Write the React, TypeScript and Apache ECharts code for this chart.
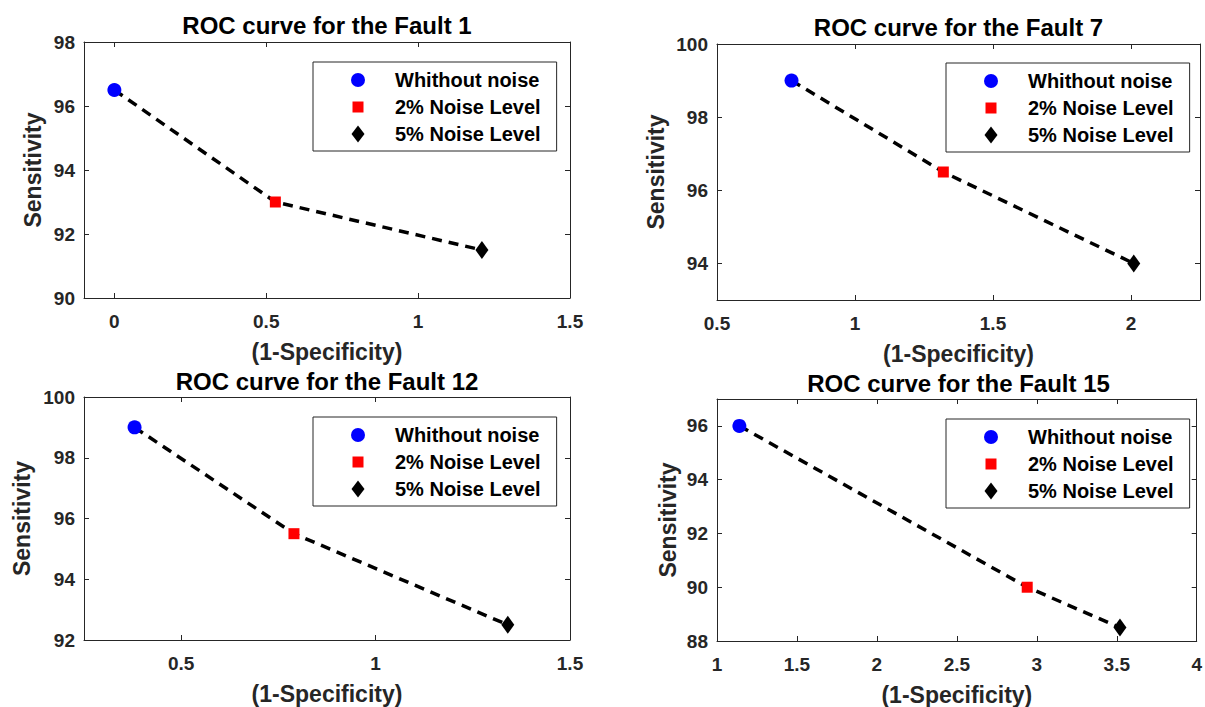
import React, { useEffect, useRef } from 'react';
import * as echarts from 'echarts';

const seriesNames = ['Whithout noise', '2% Noise Level', '5% Noise Level'];
const titles = [
  'ROC curve for the Fault 1',
  'ROC curve for the Fault 7',
  'ROC curve for the Fault 12',
  'ROC curve for the Fault 15',
];
const xAxisName = '(1-Specificity)';
const yAxisName = 'Sensitivity';

const fault1X = [0, 0.53, 1.21];
const fault1Y = [96.5, 93, 91.5];
const fault7X = [0.77, 1.32, 2.01];
const fault7Y = [99, 96.5, 94];
const fault12X = [0.38, 0.79, 1.34];
const fault12Y = [99, 95.5, 92.5];
const fault15X = [1.14, 2.94, 3.52];
const fault15Y = [96, 90, 88.5];

const xTicks1 = [0, 0.5, 1, 1.5];
const xTicks7 = [0.5, 1, 1.5, 2];
const xTicks12 = [0.5, 1, 1.5];
const xTicks15 = [1, 1.5, 2, 2.5, 3, 3.5, 4];
const yTicks1 = [90, 92, 94, 96, 98];
const yTicks7 = [94, 96, 98, 100];
const yTicks12 = [92, 94, 96, 98, 100];
const yTicks15 = [88, 90, 92, 94, 96];

const xRange1 = [-0.1, 1.5];
const xRange7 = [0.5, 2.25];
const xRange12 = [0.25, 1.5];
const xRange15 = [1, 4];
const yRange1 = [90, 98];
const yRange7 = [93, 100];
const yRange12 = [92, 100];
const yRange15 = [88, 97];

const panelData = [
  { xs: fault1X, ys: fault1Y, xt: xTicks1, yt: yTicks1, xr: xRange1, yr: yRange1 },
  { xs: fault7X, ys: fault7Y, xt: xTicks7, yt: yTicks7, xr: xRange7, yr: yRange7 },
  { xs: fault12X, ys: fault12Y, xt: xTicks12, yt: yTicks12, xr: xRange12, yr: yRange12 },
  { xs: fault15X, ys: fault15Y, xt: xTicks15, yt: yTicks15, xr: xRange15, yr: yRange15 },
];

const layout = [
  { left: 84, top: 42, width: 486, height: 256, titleTop: 13, legendLeft: 313, legendTop: 62, yNameGap: 40 },
  { left: 717, top: 44, width: 483, height: 256, titleTop: 15, legendLeft: 946, legendTop: 63, yNameGap: 50 },
  { left: 84, top: 397, width: 486, height: 243, titleTop: 369, legendLeft: 313, legendTop: 417, yNameGap: 51 },
  { left: 717, top: 399, width: 483, height: 242, titleTop: 371, legendLeft: 946, legendTop: 419, yNameGap: 38 },
];

const FONT = '"Liberation Sans", Arial, Helvetica, sans-serif';
const AXIS_COLOR = '#262626';

const markerSymbols = ['circle', 'rect', 'diamond'];
const markerSizes: any[] = [14, 11, [13, 18]];
const markerColors = ['#0000ff', '#ff0000', '#000000'];
const legendIcons = [
  'path://M0,0M16,18M1,9A7,7,0,1,0,15,9A7,7,0,1,0,1,9Z',
  'path://M0,0M16,18M2.5,3.5L13.5,3.5L13.5,14.5L2.5,14.5Z',
  'path://M0,0M16,18M8,0.5L14.5,9L8,17.5L1.5,9Z',
];

function buildOption() {
  const grid: any[] = [];
  const xAxis: any[] = [];
  const yAxis: any[] = [];
  const series: any[] = [];
  const legend: any[] = [];
  const title: any[] = [];

  panelData.forEach((p, i) => {
    const L = layout[i];
    grid.push({ left: L.left, top: L.top, width: L.width, height: L.height, containLabel: false });
    title.push({
      text: titles[i],
      left: L.left + L.width / 2,
      top: L.titleTop,
      textAlign: 'center',
      padding: 0,
      textStyle: { fontFamily: FONT, fontSize: 24, fontWeight: 'bold', color: '#000' },
    });
    const axisLine = { show: true, onZero: false, lineStyle: { color: AXIS_COLOR, width: 1 } };
    const labelStyle = { fontFamily: FONT, fontSize: 19, fontWeight: 'bold', color: AXIS_COLOR };
    const nameStyle = { fontFamily: FONT, fontSize: 23, fontWeight: 'bold', color: AXIS_COLOR };
    xAxis.push({
      type: 'value', gridIndex: i, position: 'bottom', min: p.xr[0], max: p.xr[1],
      axisLine, splitLine: { show: false },
      axisTick: { show: true, inside: true, length: 5, customValues: p.xt, lineStyle: { color: AXIS_COLOR } },
      axisLabel: { show: true, customValues: p.xt, margin: 14, ...labelStyle },
      name: xAxisName, nameLocation: 'middle', nameGap: 42, nameTextStyle: nameStyle,
    });
    xAxis.push({
      type: 'value', gridIndex: i, position: 'top', min: p.xr[0], max: p.xr[1],
      axisLine, splitLine: { show: false },
      axisTick: { show: true, inside: true, length: 5, customValues: p.xt, lineStyle: { color: AXIS_COLOR } },
      axisLabel: { show: false },
    });
    yAxis.push({
      type: 'value', gridIndex: i, position: 'left', min: p.yr[0], max: p.yr[1],
      axisLine, splitLine: { show: false },
      axisTick: { show: true, inside: true, length: 5, customValues: p.yt, lineStyle: { color: AXIS_COLOR } },
      axisLabel: { show: true, customValues: p.yt, margin: 9, ...labelStyle },
      name: yAxisName, nameLocation: 'middle', nameGap: L.yNameGap, nameTextStyle: nameStyle,
    });
    yAxis.push({
      type: 'value', gridIndex: i, position: 'right', min: p.yr[0], max: p.yr[1],
      axisLine, splitLine: { show: false },
      axisTick: { show: true, inside: true, length: 5, customValues: p.yt, lineStyle: { color: AXIS_COLOR } },
      axisLabel: { show: false },
    });
    series.push({
      type: 'line',
      xAxisIndex: 2 * i,
      yAxisIndex: 2 * i,
      data: p.xs.map((x, j) => [x, p.ys[j]]),
      symbol: 'none',
      silent: true,
      z: 2,
      lineStyle: { color: '#000', width: 3.5, type: [10, 7], cap: 'butt' },
    });
    seriesNames.forEach((name, j) => {
      series.push({
        type: 'scatter',
        name,
        xAxisIndex: 2 * i,
        yAxisIndex: 2 * i,
        data: [[p.xs[j], p.ys[j]]],
        symbol: markerSymbols[j],
        symbolSize: markerSizes[j],
        itemStyle: { color: markerColors[j], opacity: 1 },
        z: 3,
      });
    });
    legend.push({
      show: true,
      orient: 'vertical',
      left: L.legendLeft,
      top: L.legendTop,
      selectedMode: false,
      data: seriesNames.map((n, j) => ({ name: n, icon: legendIcons[j] })),
      itemWidth: 16,
      itemHeight: 18,
      itemGap: 7,
      padding: [8, 16, 7, 37],
      borderColor: AXIS_COLOR,
      borderWidth: 1,
      backgroundColor: '#fff',
      textStyle: {
        fontFamily: FONT, fontSize: 20, fontWeight: 'bold', color: '#000',
        lineHeight: 20, padding: [0, 0, 0, 24],
      },
    });
  });

  return {
    animation: false,
    backgroundColor: '#fff',
    title,
    grid,
    xAxis,
    yAxis,
    legend,
    series,
  };
}

export default function App() {
  const ref = useRef<HTMLDivElement>(null);
  useEffect(() => {
    if (!ref.current) return;
    const chart = echarts.init(ref.current, undefined, { renderer: 'svg' });
    chart.setOption(buildOption() as any);
    return () => chart.dispose();
  }, []);
  return (
    <div
      ref={ref}
      style={{ position: 'fixed', left: 0, top: 0, width: 1205, height: 707, background: '#fff' }}
    />
  );
}
